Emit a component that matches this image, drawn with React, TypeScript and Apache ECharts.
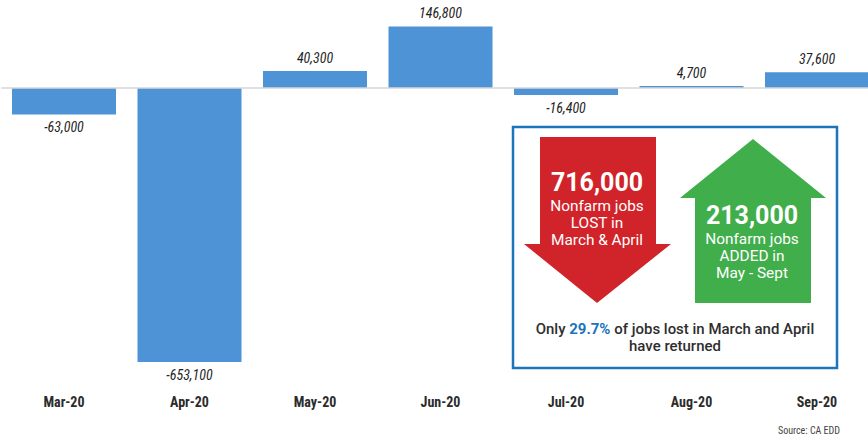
import React, { useEffect, useRef } from "react";
import * as echarts from "echarts";

const categories = ["Mar-20", "Apr-20", "May-20", "Jun-20", "Jul-20", "Aug-20", "Sep-20"];
const jobChanges = [-63000, -653100, 40300, 146800, -16400, 4700, 37600];
const lostTotal = "716,000";
const lostLines = ["Nonfarm jobs", "LOST in", "March & April"];
const addedTotal = "213,000";
const addedLines = ["Nonfarm jobs", "ADDED in", "May - Sept"];
const returnedPct = "29.7%";
const sourceText = "Source: CA EDD";

const NARROW = '"Liberation Sans Narrow", "Arial Narrow", "Roboto Condensed", "Liberation Sans", sans-serif';
const INFO = 'Roboto, "Noto Sans", sans-serif';

export default function App() {
  const ref = useRef<HTMLDivElement>(null);
  useEffect(() => {
    if (!ref.current) return;
    const chart = echarts.init(ref.current, null, { renderer: "svg" });
    const fmt = (v: number) => v.toLocaleString("en-US");
    const block = (lines: string[], x: number, yTop: number) => ({
      type: "text",
      x,
      y: yTop,
      scaleX: 1.1,
      z: 12,
      style: {
        text: lines.join("\n"),
        fill: "#ffffff",
        fontFamily: INFO,
        fontSize: 14,
        lineHeight: 17,
        align: "center",
        verticalAlign: "top",
      },
    });
    chart.setOption({
      animation: false,
      backgroundColor: "#ffffff",
      grid: { left: 1.25, top: 4.1, width: 878.5, height: 377.6, containLabel: false },
      xAxis: {
        type: "category",
        data: categories,
        position: "bottom",
        axisLine: { show: false, onZero: false },
        axisTick: { show: false },
        axisLabel: {
          margin: 13,
          fontFamily: NARROW,
          fontSize: 14,
          fontWeight: "bold",
          color: "#2b2b2b",
        },
      },
      yAxis: {
        type: "value",
        min: -700000,
        max: 200000,
        show: false,
        splitLine: { show: false },
      },
      series: [
        {
          type: "bar",
          barWidth: 104,
          data: jobChanges.map((v) => ({
            value: v,
            label: {
              show: true,
              position: v >= 0 ? "top" : "bottom",
              distance: 6,
              formatter: () => fmt(v),
              fontFamily: NARROW,
              fontStyle: "italic",
              fontSize: 14,
              color: "#1f1f1f",
            },
          })),
          itemStyle: { color: "#4D93D5" },
          markLine: {
            silent: true,
            symbol: "none",
            label: { show: false },
            lineStyle: { color: "#d6d6d6", width: 1.5, type: "solid" },
            data: [{ yAxis: 0 }],
          },
        },
      ],
      graphic: [
        {
          type: "rect",
          shape: { x: 513, y: 127, width: 324, height: 241 },
          style: { fill: "#ffffff", stroke: "#1B75BC", lineWidth: 2.5 },
          z: 10,
        },
        {
          type: "polygon",
          shape: {
            points: [
              [540, 137], [656, 137], [656, 244], [671, 244], [597, 303], [524, 244], [540, 244],
            ],
          },
          style: { fill: "#D1232A" },
          z: 11,
        },
        {
          type: "polygon",
          shape: {
            points: [
              [753, 139], [826, 198], [811, 198], [811, 303], [695, 303], [695, 198], [680, 198],
            ],
          },
          style: { fill: "#40AE4A" },
          z: 11,
        },
        {
          type: "text",
          x: 597, y: 182, z: 12,
          style: { text: lostTotal, fill: "#ffffff", font: `bold 25px ${INFO}`, align: "center", verticalAlign: "middle" },
        },
        block(lostLines, 597, 197.5),
        {
          type: "text",
          x: 752, y: 215, z: 12,
          style: { text: addedTotal, fill: "#ffffff", font: `bold 25px ${INFO}`, align: "center", verticalAlign: "middle" },
        },
        block(addedLines, 752, 230.5),
        {
          type: "text",
          x: 675, y: 338,
          scaleX: 1.07,
          z: 12,
          style: {
            text: `{a|Only }{b|${returnedPct}}{a| of jobs lost in March and April}\n{a|have returned}`,
            align: "center",
            verticalAlign: "middle",
            rich: {
              a: { fontFamily: INFO, fontSize: 14, fontWeight: 500, fill: "#2e2e2e", lineHeight: 17 },
              b: { fontFamily: INFO, fontSize: 14, fontWeight: "bold", fill: "#1B75BC", lineHeight: 17 },
            },
          },
        },
        {
          type: "text",
          x: 840, y: 430, z: 12,
          style: { text: sourceText, fill: "#444444", font: `10px ${NARROW}`, align: "right", verticalAlign: "middle" },
        },
      ],
    });
    return () => chart.dispose();
  }, []);
  return (
    <div style={{ position: "fixed", left: 0, top: 0, width: 868, height: 437, overflow: "hidden", background: "#fff" }}>
      <div ref={ref} style={{ width: 882, height: 437 }} />
    </div>
  );
}
